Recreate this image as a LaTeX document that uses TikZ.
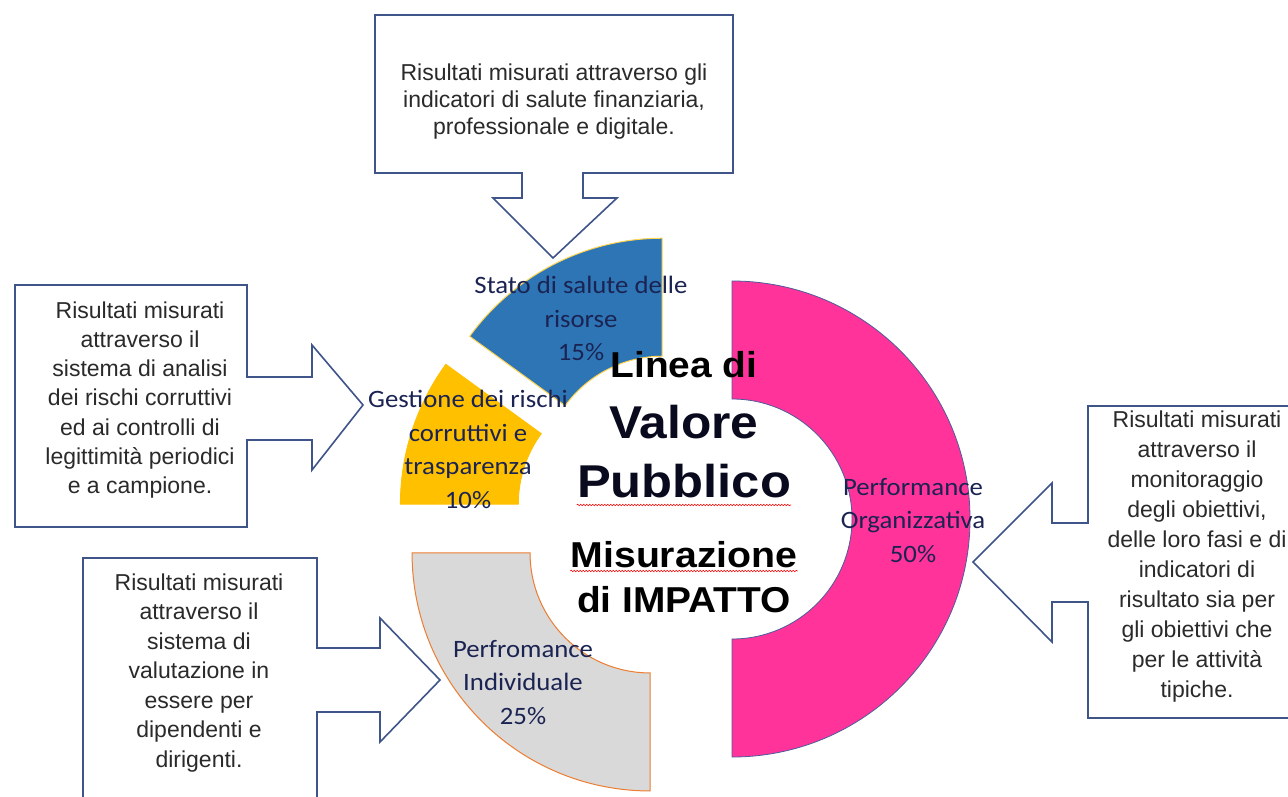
\documentclass[tikz,border=0pt]{standalone}
\usepackage{fontspec}
\setmainfont{Liberation Sans}
\newfontfamily\calib{Carlito}
\usetikzlibrary{calc,decorations.pathmorphing}
\definecolor{pinkfill}{HTML}{FF3399}
\definecolor{pinkline}{HTML}{4F5B9A}
\definecolor{bluefill}{HTML}{2E75B6}
\definecolor{blueline}{HTML}{FFD54F}
\definecolor{goldfill}{HTML}{FFC000}
\definecolor{grayfill}{HTML}{D9D9D9}
\definecolor{grayline}{HTML}{ED7D31}
\definecolor{calloutline}{HTML}{3F5488}
\definecolor{calltextc}{HTML}{2A2A2A}
\definecolor{segtext}{HTML}{1A2352}
\definecolor{titlec}{HTML}{0A0A1E}
\begin{document}
\begin{tikzpicture}[x=1pt,y=1pt,
  calloutbox/.style={draw=calloutline, line width=1.6pt, fill=white, line join=miter},
  calltext/.style={font=\fontsize{23}{#1}\selectfont, text=calltextc, align=center, anchor=north, inner sep=0pt},
  seglabel/.style={font=\calib\fontsize{25}{33.5}\selectfont, text=segtext, align=center, anchor=north, inner sep=0pt, xscale=1.07},
  titletext/.style={font=\bfseries\fontsize{#1}{#1}\selectfont, text=titlec, anchor=base, inner sep=0pt, xscale=1.08},
  squiggle/.style={draw=red, line width=0.6pt, decorate, decoration={snake, amplitude=0.8pt, segment length=3pt}}
]
\useasboundingbox (0,0) rectangle (1288,-797);
\clip (0,0) rectangle (1288,-797);
\fill[white] (0,0) rectangle (1288,-797);

% exploded doughnut
\coordinate (c0) at (684,-519);
\coordinate (cP) at ($(c0)+(0:48)$);
\coordinate (cG) at ($(c0)+(225:48)$);
\coordinate (cY) at ($(c0)+(162:48)$);
\coordinate (cB) at ($(c0)+(117:48)$);

\draw[fill=pinkfill, draw=pinkline, line width=0.8pt]
  ($(cP)+(90:238)$) arc[start angle=90, end angle=-90, radius=238]
  -- ($(cP)+(-90:120)$) arc[start angle=-90, end angle=90, radius=120] -- cycle;
\draw[fill=grayfill, draw=grayline, line width=1pt]
  ($(cG)+(180:238)$) arc[start angle=180, end angle=270, radius=238]
  -- ($(cG)+(270:120)$) arc[start angle=270, end angle=180, radius=120] -- cycle;
\draw[fill=goldfill, draw=goldfill, line width=0.8pt]
  ($(cY)+(144:238)$) arc[start angle=144, end angle=180, radius=238]
  -- ($(cY)+(180:120)$) arc[start angle=180, end angle=144, radius=120] -- cycle;
\draw[fill=bluefill, draw=blueline, line width=1pt]
  ($(cB)+(90:238)$) arc[start angle=90, end angle=144, radius=238]
  -- ($(cB)+(144:120)$) arc[start angle=144, end angle=90, radius=120] -- cycle;

% callouts
\draw[calloutbox] (375,-15) -- (733,-15) -- (733,-173) -- (583,-173) -- (583,-198)
  -- (617,-198) -- (553,-258) -- (493,-198) -- (522,-198) -- (522,-173) -- (375,-173) -- cycle;
\draw[calloutbox] (15,-285) -- (247,-285) -- (247,-377) -- (312,-377) -- (312,-345)
  -- (363,-405) -- (312,-470) -- (312,-440) -- (247,-440) -- (247,-527) -- (15,-527) -- cycle;
\draw[calloutbox] (83,-558) -- (317,-558) -- (317,-648) -- (380,-648) -- (380,-618)
  -- (440,-680) -- (380,-742) -- (380,-712) -- (317,-712) -- (317,-810) -- (83,-810) -- cycle;
\draw[calloutbox] (1088,-406) -- (1300,-406) -- (1300,-718) -- (1088,-718) -- (1088,-602)
  -- (1052,-602) -- (1052,-642) -- (973,-562) -- (1052,-483) -- (1052,-523) -- (1088,-523) -- cycle;

\node[calltext=27] (ttop) at (554,-63.5) {Risultati misurati attraverso gli\\indicatori di salute finanziaria,\\professionale e digitale.};
\node[calltext=29.2] (tleft) at (140,-301.5) {Risultati misurati\\attraverso il\\sistema di analisi\\dei rischi corruttivi\\ed ai controlli di\\legittimità periodici\\e a campione.};
\node[calltext=29.5] (tbot) at (199,-573.5) {Risultati misurati\\attraverso il\\sistema di\\valutazione in\\essere per\\dipendenti e\\dirigenti.};
\node[calltext=30] (tright) at (1197,-410.5) {Risultati misurati\\attraverso il\\monitoraggio\\degli obiettivi,\\delle loro fasi e di\\indicatori di\\risultato sia per\\gli obiettivi che\\per le attività\\tipiche.};

% segment labels
\node[seglabel] (lblue) at (581,-276) {Stato di salute delle\\risorse\\15\%};
\node[seglabel] (lgold) at (468,-390) {Gestione dei rischi\\corruttivi e\\trasparenza\\10\%};
\node[seglabel] (lgray) at (523,-640) {Perfromance\\Individuale\\25\%};
\node[seglabel] (lpink) at (913,-478) {Performance\\Organizzativa\\50\%};

% title
\node[titletext=36, text=black] (t1) at (684,-377) {Linea di};
\node[titletext=46] (t2) at (684,-438) {Valore};
\node[titletext=46, xscale=1.02] (t3) at (684,-497) {Pubblico};
\node[titletext=36, xscale=1.01, text=black] (t4) at (684,-567) {Misurazione};
\node[titletext=36, text=black] (t5) at (684,-612) {di IMPATTO};
\draw[squiggle] ($(t3.base west)+(0,-8)$) -- ($(t3.base east)+(0,-8)$);
\draw[squiggle] ($(t4.base west)+(0,-4)$) -- ($(t4.base east)+(0,-4)$);
\end{tikzpicture}
\end{document}
